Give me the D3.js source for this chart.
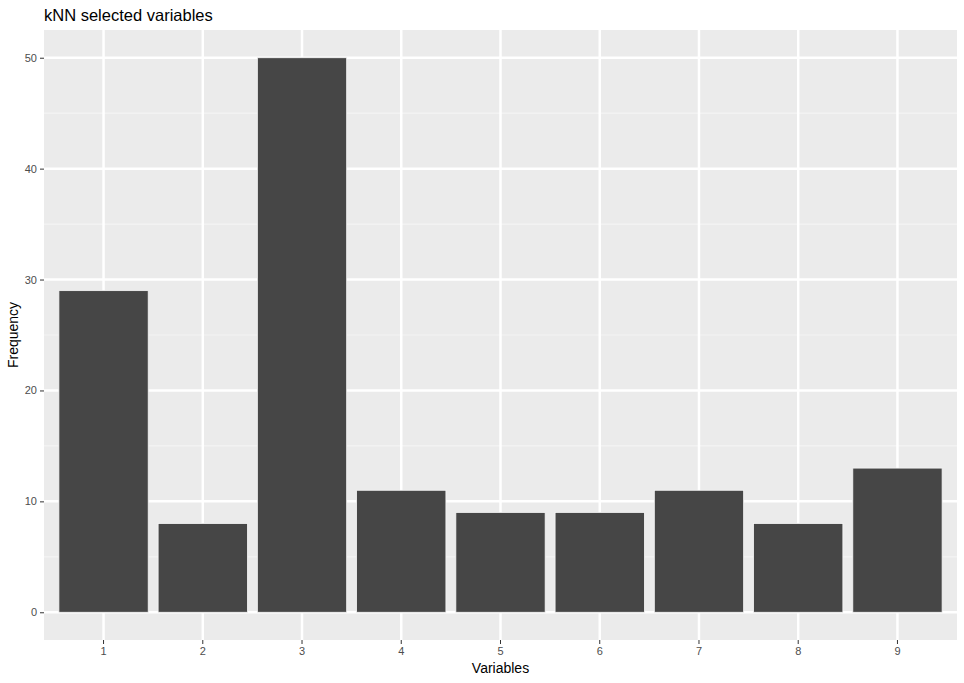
<!DOCTYPE html>
<html>
<head>
<meta charset="utf-8">
<script src="https://cdn.jsdelivr.net/npm/d3@7"></script>
<style>
  body { margin: 0; background: #fff; }
  text { font-family: "Liberation Sans", Arial, sans-serif; }
</style>
</head>
<body>
<div class="chart"></div>
<script>
const variables = ['1', '2', '3', '4', '5', '6', '7', '8', '9'];
const frequency = [29, 8, 50, 11, 9, 9, 11, 8, 13];
const yTicks = [0, 10, 20, 30, 40, 50];
const yMinor = [5, 15, 25, 35, 45];

(function() {
  'use strict';

  let width = 964,
      height = 683,
      panel = { left: 44, right: 957, top: 30, bottom: 640 },

      svg = d3.select('.chart')
        .append('svg')
        .attr('width', width)
        .attr('height', height),

      // ggplot discrete axis: 0.6 step expansion each side
      x = d3.scaleBand()
        .domain(variables)
        .range([panel.left, panel.right])
        .paddingInner(0.1)
        .paddingOuter(0.15),

      y = d3.scaleLinear()
        .domain([-2.5, 52.5])
        .range([panel.bottom, panel.top]);

  // panel background
  svg.append('rect')
    .attr('x', panel.left)
    .attr('y', panel.top)
    .attr('width', panel.right - panel.left)
    .attr('height', panel.bottom - panel.top)
    .attr('fill', '#ebebeb');

  // minor grid
  svg.selectAll('.minor')
    .data(yMinor)
    .enter()
    .append('line')
      .attr('x1', panel.left).attr('x2', panel.right)
      .attr('y1', d => y(d)).attr('y2', d => y(d))
      .attr('stroke', '#f4f4f4')
      .attr('stroke-width', 1.2);

  // major grid
  svg.selectAll('.hmajor')
    .data(yTicks)
    .enter()
    .append('line')
      .attr('x1', panel.left).attr('x2', panel.right)
      .attr('y1', d => y(d)).attr('y2', d => y(d))
      .attr('stroke', '#fff')
      .attr('stroke-width', 2.5);

  svg.selectAll('.vmajor')
    .data(variables)
    .enter()
    .append('line')
      .attr('x1', d => x(d) + x.bandwidth() / 2)
      .attr('x2', d => x(d) + x.bandwidth() / 2)
      .attr('y1', panel.top).attr('y2', panel.bottom)
      .attr('stroke', '#fff')
      .attr('stroke-width', 2.5);

  // bars
  svg.selectAll('.bar')
    .data(variables.map((v, i) => ({ v: v, f: frequency[i] })))
    .enter()
    .append('rect')
      .attr('x', d => x(d.v))
      .attr('y', d => y(d.f))
      .attr('width', x.bandwidth())
      .attr('height', d => y(0) - y(d.f))
      .attr('fill', '#464646')
      .attr('stroke', '#f6f6f6')
      .attr('stroke-width', 0.8);

  // y axis
  let yAxis = svg.append('g')
    .attr('transform', `translate(${panel.left},0)`)
    .call(d3.axisLeft(y).tickValues(yTicks).tickSize(4).tickPadding(3));
  yAxis.select('.domain').remove();
  yAxis.selectAll('line').attr('stroke', '#333');
  yAxis.selectAll('text')
    .attr('fill', '#4d4d4d')
    .style('font-size', '11px');

  // x axis
  let xAxis = svg.append('g')
    .attr('transform', `translate(0,${panel.bottom})`)
    .call(d3.axisBottom(x).tickSize(4).tickPadding(3));
  xAxis.select('.domain').remove();
  xAxis.selectAll('line').attr('stroke', '#333');
  xAxis.selectAll('text')
    .attr('fill', '#4d4d4d')
    .style('font-size', '11px');

  // titles
  svg.append('text')
    .attr('x', panel.left)
    .attr('y', 21)
    .attr('fill', '#000')
    .style('font-size', '16.5px')
    .text('kNN selected variables');

  svg.append('text')
    .attr('x', (panel.left + panel.right) / 2)
    .attr('y', 673)
    .attr('text-anchor', 'middle')
    .attr('fill', '#000')
    .style('font-size', '14px')
    .text('Variables');

  svg.append('text')
    .attr('transform', `translate(18,${(panel.top + panel.bottom) / 2}) rotate(-90)`)
    .attr('text-anchor', 'middle')
    .attr('fill', '#000')
    .style('font-size', '14px')
    .text('Frequency');
})();
</script>
</body>
</html>
